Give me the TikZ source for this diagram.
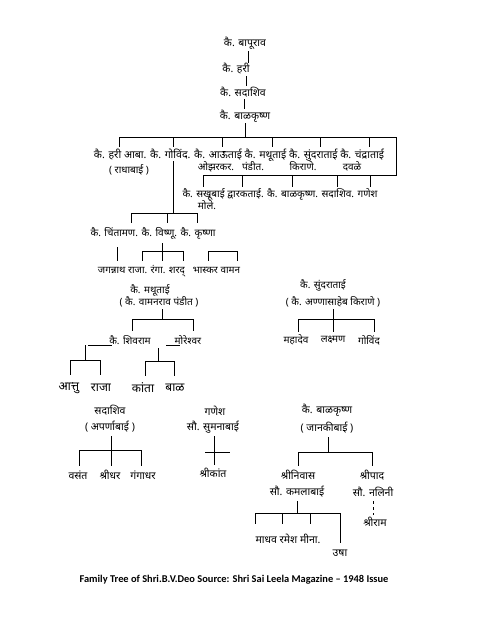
\documentclass[tikz,border=0pt]{standalone}
\usepackage{graphicx}
\usepackage{fontspec}
\newfontfamily\devfont[Script=Devanagari]{Noto Sans}
\newfontfamily\capfont{Carlito}
\newcommand{\fitw}[2]{\resizebox{#1pt}{!}{#2}}
\tikzset{
  nm/.style={font=\devfont\fontsize{10}{11}\selectfont, inner sep=0pt},
  nmtop/.style={font=\devfont\fontsize{10.5}{12}\selectfont, inner sep=0pt},
  nmlow/.style={font=\devfont\fontsize{10.5}{12}\selectfont, inner sep=0pt},
  nmbig/.style={font=\devfont\fontsize{12}{14}\selectfont, inner sep=0pt},
  ln/.style={line width=0.8pt, black},
}
\begin{document}
\begin{tikzpicture}[x=1pt,y=-1pt]
\useasboundingbox (0,0) rectangle (480,621);
\fill[white] (0,0) rectangle (480,621);
% top chain
\node[nmtop] (bapurao) at (245,43) {कै. बापूराव};
\node[nmtop] (hari) at (236,69) {कै. हरी};
\node[nmtop] (sadashivA) at (243,92) {कै. सदाशिव};
\node[nmtop] (balkrishnaA) at (245,116) {कै. बाळकृष्ण};
\draw[ln] (248,51) -- (248,63);
\draw[ln] (246,76) -- (246,86);
\draw[ln] (244,99) -- (244,109);
\draw[ln] (245,123) -- (245,137);
% first bar
\coordinate (b1l) at (119,137);
\coordinate (b1r) at (396,137);
\coordinate (b2l) at (203,175);
\coordinate (b2r) at (396,175);
\draw[ln] (b1l) -- (b1r) -- (b2r) -- (b2l);
\foreach \x in {119,222,272,320,369} \draw[ln] (\x,137) -- (\x,147);
\draw[ln] (173,137) -- (173,147);
\draw[ln] (173,161) -- (173,213);
\node[nm] (row1) at (239,155) {\fitw{290}{कै. हरी आबा. कै. गोविंद. कै. आऊताई कै. मथूताई कै. सुंदराताई कै. चंद्राताई}};
\node[nm] (radhabai) at (129,170) {( राधाबाई )};
\node[nm] (ozarkar) at (216,167) {ओझरकर.};
\node[nm] (pandit) at (253,166) {पंडीत.};
\node[nm] (kirane) at (303,166) {किराणे.};
\node[nm] (davale) at (352,166) {दवळे};
% second bar
\foreach \x in {203,242,292,337,370} \draw[ln] (\x,175) -- (\x,187);
\node[nm] (row3) at (280,194) {\fitw{195}{कै. सखूबाई द्वारकताई. कै. बाळकृष्ण. सदाशिव. गणेश}};
\node[nm] (mole) at (207,205) {मोले.};
% third bar
\draw[ln] (131,213) -- (197,213);
\foreach \x in {131,167,197} \draw[ln] (\x,213) -- (\x,223);
\node[nm] (row4) at (153,233) {\fitw{125}{कै. चिंतामण. कै. विष्णू. कै. कृष्णा}};
\draw[ln] (117,247) -- (117,261);
\draw[ln] (162,243) -- (162,251);
\draw[ln] (142,251) -- (183,251);
\foreach \x in {142,162,183} \draw[ln] (\x,251) -- (\x,261);
\draw[ln] (208,251) -- (237,251);
\foreach \x in {208,237} \draw[ln] (\x,251) -- (\x,261);
\node[nm] (row5) at (169,271) {\fitw{142}{जगन्नाथ राजा. रंगा. शरद्\hspace{0.8em}भास्कर वामन}};
% mathutai
\node[nm] (mathutai) at (150,290) {कै. मथूताई};
\node[nm] (vamanrao) at (159,302) {( कै. वामनराव पंडीत )};
\draw[ln] (162,309) -- (162,319);
\draw[ln] (132,319) -- (193,319);
\draw[ln] (132,319) -- (132,331);
\draw[ln] (193,319) -- (193,331);
\node[nm] (shivram) at (130,340) {कै. शिवराम};
\node[nm] (moreshwar) at (188,340) {मोरेश्वर};
\draw[ln] (88,345) -- (112,345);
\draw[ln] (166,345) -- (180,345);
\draw[ln] (85,345) -- (85,360);
\draw[ln] (70,360) -- (100,360);
\draw[ln] (70,360) -- (70,375);
\draw[ln] (100,360) -- (100,375);
\draw[ln] (158,348) -- (158,361);
\draw[ln] (145,361) -- (174,361);
\draw[ln] (145,361) -- (145,376);
\draw[ln] (174,361) -- (174,376);
\node[nmbig] (attu) at (69,388) {आत्तु};
\node[nmbig] (raja) at (101,388) {राजा};
\node[nmbig] (kanta) at (143,388) {कांता};
\node[nmbig] (bal) at (175,388) {बाळ};
% sundaratai
\node[nm] (sundaratai) at (323,285) {कै. सुंदराताई};
\node[nm] (annasaheb) at (333,302) {( कै. अण्णासाहेब किराणे )};
\draw[ln] (333,309) -- (333,319);
\draw[ln] (298,319) -- (374,319);
\foreach \x in {298,333,374} \draw[ln] (\x,319) -- (\x,332);
\node[nm] (mahadev) at (296,340) {महादेव};
\node[nm] (laxman) at (333,340) {लक्ष्मण};
\node[nm] (govind) at (369,340) {गोविंद};
% sadashiv
\node[nmlow] (sadashivB) at (110,410) {सदाशिव};
\node[nmlow] (aparnabai) at (110,427) {( अपर्णाबाई )};
\draw[ln] (111,436) -- (111,450);
\draw[ln] (79,450) -- (141,450);
\foreach \x in {79,111,141} \draw[ln] (\x,450) -- (\x,466);
\node[nmlow] (vasant) at (78,475) {वसंत};
\node[nmlow] (shridhar) at (110,475) {श्रीधर};
\node[nmlow] (gangadhar) at (143,475) {गंगाधर};
% ganesh
\node[nmlow] (ganesh) at (215,411) {गणेश};
\node[nmlow] (sumanabai) at (213,427) {सौ. सुमनाबाई};
\draw[ln] (214,436) -- (214,465);
\draw[ln] (205,452) -- (230,452);
\node[nmlow] (shrikant) at (213,473) {श्रीकांत};
% balkrishna
\node[nmlow] (balkrishnaB) at (327,410) {कै. बाळकृष्ण};
\node[nmlow] (janakibai) at (327,428) {( जानकीबाई )};
\draw[ln] (328,437) -- (328,452);
\draw[ln] (298,452) -- (372,452);
\draw[ln] (298,452) -- (298,466);
\draw[ln] (372,452) -- (372,466);
\node[nmlow] (shrinivas) at (298,475) {श्रीनिवास};
\node[nmlow] (kamalabai) at (297,492) {सौ. कमलाबाई};
\node[nmlow] (shripad) at (372,475) {श्रीपाद};
\node[nmlow] (nalini) at (373,492) {सौ. नलिनी};
\draw[ln] (297,501) -- (297,513);
\draw[ln] (255,513) -- (340,513);
\foreach \x in {255,282,310} \draw[ln] (\x,513) -- (\x,524);
\draw[ln] (340,513) -- (340,543);
\node[nmlow] (children) at (288,539) {माधव रमेश मीना.};
\node[nmlow] (usha) at (340,553) {उषा};
\draw[ln, dashed] (373,501) -- (373,515);
\node[nmlow] (shriram) at (375,522) {श्रीराम};
% caption
\node[font=\capfont\bfseries\fontsize{10.4}{12}\selectfont, inner sep=0pt] (caption) at (234,580) {Family Tree of Shri.B.V.Deo Source: Shri Sai Leela Magazine – 1948 Issue};
\end{tikzpicture}
\end{document}
